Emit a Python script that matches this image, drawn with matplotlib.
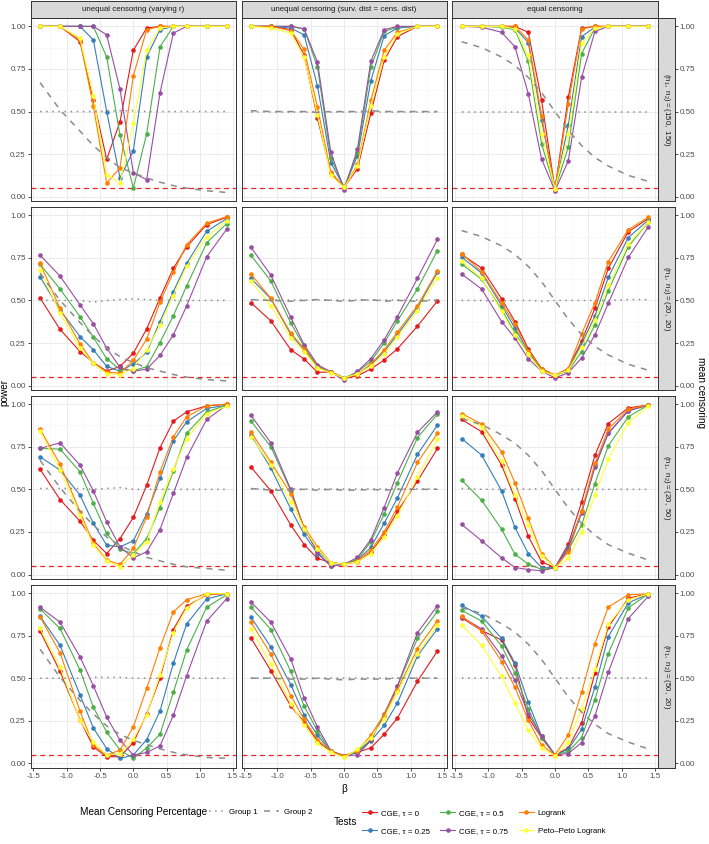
import matplotlib.pyplot as plt
from matplotlib.lines import Line2D
from matplotlib.ticker import MultipleLocator
from matplotlib.transforms import ScaledTranslation

plt.rcParams['font.family'] = ['Liberation Sans', 'DejaVu Sans']
plt.rcParams['axes.unicode_minus'] = False

# valores de beta (eje x)
beta = [-1.4, -1.1, -0.8, -0.6, -0.4, -0.2, 0.0, 0.2, 0.4, 0.6, 0.8, 1.1, 1.4]

escenarios = ['unequal censoring (varying r)',
              'unequal censoring (surv. dist = cens. dist)',
              'equal censoring']
tamanos = [r'$\mathregular{(n_1,\ n_2) = (150,\ 150)}$',
           r'$\mathregular{(n_1,\ n_2) = (20,\ 20)}$',
           r'$\mathregular{(n_1,\ n_2) = (20,\ 50)}$',
           r'$\mathregular{(n_1,\ n_2) = (50,\ 20)}$']
nivel_alfa = 0.05

# potencia por test: 12 paneles, fila por fila (150,150) (20,20) (20,50) (50,20)
# y en cada fila: varying r / surv = cens / equal censoring
cge_0 = [
    [1.0, 1.0, 0.91, 0.57, 0.22, 0.44, 0.86, 0.99, 1.0, 1.0, 1.0, 1.0, 1.0],
    [1.0, 1.0, 0.98, 0.83, 0.46, 0.14, 0.055, 0.165, 0.49, 0.80, 0.94, 1.0, 1.0],
    [1.0, 1.0, 1.0, 1.0, 0.965, 0.565, 0.045, 0.585, 0.99, 1.0, 1.0, 1.0, 1.0],
    [0.515, 0.33, 0.20, 0.135, 0.085, 0.113, 0.19, 0.333, 0.515, 0.688, 0.815, 0.945, 0.988],
    [0.487, 0.38, 0.21, 0.156, 0.078, 0.08, 0.045, 0.058, 0.097, 0.15, 0.216, 0.349, 0.497],
    [0.77, 0.69, 0.509, 0.376, 0.216, 0.10, 0.06, 0.10, 0.26, 0.454, 0.688, 0.903, 0.98],
    [0.618, 0.44, 0.313, 0.20, 0.123, 0.211, 0.335, 0.524, 0.744, 0.90, 0.955, 0.99, 1.0],
    [0.632, 0.491, 0.29, 0.176, 0.094, 0.07, 0.06, 0.075, 0.13, 0.235, 0.37, 0.548, 0.74],
    [0.91, 0.838, 0.642, 0.446, 0.225, 0.074, 0.04, 0.178, 0.427, 0.70, 0.886, 0.978, 0.995],
    [0.777, 0.54, 0.256, 0.097, 0.039, 0.039, 0.122, 0.291, 0.50, 0.786, 0.922, 0.99, 0.996],
    [0.738, 0.544, 0.336, 0.243, 0.13, 0.07, 0.045, 0.065, 0.091, 0.171, 0.266, 0.482, 0.66],
    [0.855, 0.78, 0.724, 0.578, 0.27, 0.15, 0.05, 0.091, 0.239, 0.53, 0.80, 0.97, 0.995],
]
cge_025 = [
    [1.0, 1.0, 1.0, 0.92, 0.50, 0.11, 0.27, 0.82, 0.98, 1.0, 1.0, 1.0, 1.0],
    [1.0, 1.0, 0.99, 0.95, 0.65, 0.20, 0.055, 0.24, 0.68, 0.945, 0.99, 1.0, 1.0],
    [1.0, 1.0, 1.0, 0.99, 0.905, 0.45, 0.045, 0.42, 0.94, 0.995, 1.0, 1.0, 1.0],
    [0.639, 0.444, 0.288, 0.21, 0.113, 0.084, 0.127, 0.195, 0.376, 0.552, 0.717, 0.906, 0.98],
    [0.63, 0.51, 0.30, 0.21, 0.11, 0.08, 0.045, 0.07, 0.12, 0.20, 0.30, 0.458, 0.665],
    [0.754, 0.66, 0.47, 0.337, 0.20, 0.09, 0.06, 0.09, 0.244, 0.409, 0.635, 0.869, 0.971],
    [0.691, 0.613, 0.466, 0.30, 0.172, 0.162, 0.198, 0.356, 0.564, 0.785, 0.896, 0.975, 0.994],
    [0.82, 0.625, 0.384, 0.235, 0.123, 0.05, 0.06, 0.085, 0.159, 0.30, 0.45, 0.705, 0.877],
    [0.798, 0.701, 0.491, 0.276, 0.123, 0.04, 0.04, 0.162, 0.37, 0.642, 0.828, 0.961, 0.995],
    [0.864, 0.693, 0.402, 0.208, 0.087, 0.029, 0.049, 0.14, 0.307, 0.588, 0.819, 0.965, 0.996],
    [0.86, 0.683, 0.462, 0.285, 0.165, 0.07, 0.045, 0.065, 0.132, 0.223, 0.355, 0.631, 0.79],
    [0.928, 0.864, 0.734, 0.588, 0.359, 0.16, 0.05, 0.083, 0.20, 0.447, 0.744, 0.942, 0.995],
]
cge_05 = [
    [1.0, 1.0, 1.0, 1.0, 0.82, 0.36, 0.05, 0.37, 0.88, 1.0, 1.0, 1.0, 1.0],
    [1.0, 1.0, 1.0, 0.985, 0.76, 0.23, 0.055, 0.26, 0.76, 0.97, 0.995, 1.0, 1.0],
    [1.0, 1.0, 0.995, 0.98, 0.795, 0.31, 0.045, 0.29, 0.84, 0.99, 1.0, 1.0, 1.0],
    [0.713, 0.567, 0.405, 0.283, 0.158, 0.094, 0.088, 0.111, 0.253, 0.411, 0.585, 0.838, 0.951],
    [0.766, 0.614, 0.366, 0.23, 0.115, 0.08, 0.045, 0.08, 0.142, 0.25, 0.38, 0.567, 0.793],
    [0.713, 0.624, 0.448, 0.308, 0.19, 0.09, 0.06, 0.085, 0.20, 0.357, 0.557, 0.815, 0.96],
    [0.74, 0.736, 0.603, 0.417, 0.241, 0.147, 0.123, 0.211, 0.393, 0.607, 0.828, 0.955, 0.994],
    [0.902, 0.75, 0.491, 0.27, 0.14, 0.07, 0.06, 0.09, 0.192, 0.354, 0.54, 0.804, 0.941],
    [0.554, 0.436, 0.266, 0.119, 0.061, 0.03, 0.04, 0.143, 0.29, 0.534, 0.755, 0.926, 0.995],
    [0.907, 0.792, 0.548, 0.33, 0.184, 0.078, 0.029, 0.091, 0.171, 0.417, 0.666, 0.917, 0.99],
    [0.918, 0.786, 0.54, 0.336, 0.19, 0.07, 0.045, 0.07, 0.14, 0.278, 0.452, 0.734, 0.893],
    [0.899, 0.835, 0.689, 0.53, 0.32, 0.15, 0.05, 0.07, 0.151, 0.375, 0.645, 0.913, 0.995],
]
cge_075 = [
    [1.0, 1.0, 1.0, 1.0, 0.95, 0.63, 0.14, 0.10, 0.61, 0.96, 1.0, 1.0, 1.0],
    [1.0, 1.0, 1.0, 0.985, 0.79, 0.26, 0.04, 0.28, 0.795, 0.98, 1.0, 1.0, 1.0],
    [1.0, 0.995, 0.965, 0.88, 0.605, 0.22, 0.035, 0.21, 0.70, 0.97, 1.0, 1.0, 1.0],
    [0.766, 0.643, 0.474, 0.363, 0.22, 0.107, 0.084, 0.097, 0.177, 0.298, 0.468, 0.756, 0.918],
    [0.813, 0.649, 0.40, 0.24, 0.123, 0.08, 0.031, 0.084, 0.158, 0.269, 0.405, 0.63, 0.858],
    [0.655, 0.567, 0.376, 0.279, 0.158, 0.085, 0.045, 0.075, 0.162, 0.298, 0.483, 0.752, 0.932],
    [0.74, 0.773, 0.642, 0.491, 0.309, 0.162, 0.098, 0.133, 0.264, 0.476, 0.687, 0.91, 0.994],
    [0.935, 0.773, 0.499, 0.27, 0.13, 0.05, 0.06, 0.10, 0.205, 0.393, 0.597, 0.834, 0.955],
    [0.294, 0.198, 0.098, 0.041, 0.029, 0.022, 0.04, 0.15, 0.36, 0.63, 0.83, 0.96, 0.995],
    [0.917, 0.829, 0.625, 0.456, 0.272, 0.136, 0.049, 0.064, 0.103, 0.282, 0.515, 0.835, 0.967],
    [0.948, 0.829, 0.612, 0.384, 0.213, 0.075, 0.045, 0.049, 0.135, 0.291, 0.456, 0.767, 0.926],
    [0.86, 0.79, 0.631, 0.489, 0.291, 0.161, 0.05, 0.058, 0.122, 0.278, 0.534, 0.85, 0.981],
]
logrank = [
    [1.0, 1.0, 0.92, 0.53, 0.08, 0.17, 0.71, 0.98, 1.0, 1.0, 1.0, 1.0, 1.0],
    [1.0, 1.0, 0.975, 0.865, 0.525, 0.145, 0.055, 0.19, 0.565, 0.86, 0.965, 1.0, 1.0],
    [1.0, 1.0, 1.0, 1.0, 0.92, 0.475, 0.045, 0.545, 0.985, 1.0, 1.0, 1.0, 1.0],
    [0.717, 0.454, 0.245, 0.133, 0.078, 0.074, 0.148, 0.273, 0.49, 0.665, 0.828, 0.953, 0.992],
    [0.655, 0.513, 0.308, 0.216, 0.105, 0.08, 0.045, 0.065, 0.127, 0.21, 0.314, 0.47, 0.673],
    [0.774, 0.668, 0.483, 0.36, 0.205, 0.10, 0.06, 0.10, 0.304, 0.487, 0.727, 0.916, 0.988],
    [0.853, 0.648, 0.368, 0.182, 0.084, 0.059, 0.153, 0.339, 0.603, 0.808, 0.926, 0.99, 1.0],
    [0.838, 0.66, 0.472, 0.28, 0.162, 0.07, 0.06, 0.08, 0.143, 0.25, 0.397, 0.658, 0.828],
    [0.945, 0.883, 0.72, 0.538, 0.329, 0.123, 0.04, 0.133, 0.374, 0.652, 0.853, 0.97, 0.995],
    [0.86, 0.65, 0.307, 0.107, 0.049, 0.078, 0.214, 0.441, 0.68, 0.889, 0.961, 0.996, 0.996],
    [0.831, 0.641, 0.398, 0.258, 0.14, 0.07, 0.045, 0.075, 0.165, 0.287, 0.433, 0.674, 0.837],
    [0.864, 0.777, 0.598, 0.447, 0.252, 0.107, 0.05, 0.165, 0.417, 0.703, 0.918, 0.99, 0.995],
]
peto_peto = [
    [1.0, 1.0, 0.93, 0.59, 0.13, 0.08, 0.43, 0.86, 0.99, 1.0, 1.0, 1.0, 1.0],
    [1.0, 0.99, 0.96, 0.82, 0.48, 0.125, 0.055, 0.18, 0.535, 0.82, 0.955, 1.0, 1.0],
    [1.0, 1.0, 1.0, 0.985, 0.83, 0.37, 0.045, 0.37, 0.90, 0.99, 1.0, 1.0, 1.0],
    [0.678, 0.425, 0.22, 0.13, 0.07, 0.064, 0.10, 0.21, 0.353, 0.528, 0.70, 0.873, 0.969],
    [0.614, 0.468, 0.279, 0.20, 0.103, 0.075, 0.045, 0.07, 0.113, 0.185, 0.283, 0.44, 0.634],
    [0.731, 0.63, 0.435, 0.298, 0.185, 0.084, 0.06, 0.09, 0.228, 0.386, 0.59, 0.83, 0.961],
    [0.841, 0.613, 0.348, 0.172, 0.08, 0.045, 0.117, 0.192, 0.427, 0.618, 0.798, 0.945, 0.988],
    [0.808, 0.645, 0.423, 0.27, 0.15, 0.07, 0.06, 0.075, 0.123, 0.221, 0.344, 0.573, 0.793],
    [0.932, 0.867, 0.665, 0.466, 0.29, 0.11, 0.04, 0.094, 0.25, 0.466, 0.677, 0.892, 0.988],
    [0.792, 0.563, 0.252, 0.126, 0.049, 0.058, 0.142, 0.285, 0.52, 0.767, 0.913, 0.996, 0.996],
    [0.79, 0.583, 0.35, 0.227, 0.117, 0.065, 0.035, 0.083, 0.15, 0.262, 0.42, 0.645, 0.812],
    [0.812, 0.693, 0.511, 0.353, 0.194, 0.091, 0.043, 0.126, 0.32, 0.553, 0.816, 0.961, 0.995],
]

# censura media por grupo (mismo orden de paneles)
cens_g1 = [
    [0.50, 0.50, 0.50, 0.50, 0.50, 0.505, 0.505, 0.50, 0.50, 0.50, 0.50, 0.50, 0.50],
    [0.50, 0.50, 0.50, 0.50, 0.50, 0.50, 0.50, 0.50, 0.50, 0.50, 0.50, 0.50, 0.50],
    [0.50, 0.50, 0.50, 0.50, 0.50, 0.50, 0.50, 0.50, 0.50, 0.50, 0.50, 0.50, 0.50],
    [0.50, 0.50, 0.50, 0.49, 0.50, 0.505, 0.51, 0.505, 0.50, 0.50, 0.50, 0.50, 0.50],
    [0.50, 0.50, 0.50, 0.50, 0.50, 0.50, 0.50, 0.50, 0.50, 0.50, 0.50, 0.50, 0.50],
    [0.50, 0.50, 0.495, 0.50, 0.50, 0.495, 0.50, 0.50, 0.50, 0.50, 0.50, 0.505, 0.505],
    [0.505, 0.505, 0.505, 0.50, 0.505, 0.51, 0.50, 0.50, 0.50, 0.50, 0.50, 0.50, 0.50],
    [0.50, 0.50, 0.50, 0.50, 0.50, 0.50, 0.50, 0.50, 0.50, 0.50, 0.50, 0.50, 0.50],
    [0.505, 0.50, 0.50, 0.505, 0.50, 0.505, 0.50, 0.50, 0.50, 0.50, 0.50, 0.50, 0.50],
    [0.50, 0.50, 0.50, 0.505, 0.505, 0.505, 0.50, 0.50, 0.50, 0.50, 0.50, 0.50, 0.50],
    [0.50, 0.50, 0.50, 0.50, 0.50, 0.50, 0.50, 0.50, 0.50, 0.50, 0.50, 0.50, 0.50],
    [0.50, 0.50, 0.50, 0.50, 0.50, 0.50, 0.50, 0.50, 0.50, 0.50, 0.50, 0.50, 0.50],
]
cens_g2 = [
    [0.67, 0.51, 0.385, 0.30, 0.23, 0.17, 0.14, 0.11, 0.085, 0.065, 0.05, 0.035, 0.025],
    [0.505, 0.50, 0.50, 0.50, 0.495, 0.50, 0.50, 0.50, 0.505, 0.50, 0.50, 0.50, 0.50],
    [0.91, 0.875, 0.82, 0.77, 0.70, 0.61, 0.50, 0.39, 0.30, 0.23, 0.18, 0.125, 0.09],
    [0.66, 0.50, 0.37, 0.29, 0.22, 0.17, 0.135, 0.105, 0.085, 0.065, 0.05, 0.035, 0.028],
    [0.505, 0.50, 0.495, 0.50, 0.505, 0.50, 0.495, 0.50, 0.505, 0.495, 0.50, 0.495, 0.50],
    [0.91, 0.875, 0.82, 0.77, 0.70, 0.61, 0.50, 0.39, 0.30, 0.23, 0.18, 0.125, 0.09],
    [0.67, 0.51, 0.37, 0.29, 0.22, 0.17, 0.135, 0.10, 0.08, 0.06, 0.045, 0.035, 0.025],
    [0.505, 0.495, 0.495, 0.50, 0.495, 0.50, 0.495, 0.495, 0.50, 0.495, 0.50, 0.50, 0.50],
    [0.915, 0.88, 0.82, 0.77, 0.70, 0.61, 0.50, 0.39, 0.30, 0.23, 0.175, 0.125, 0.085],
    [0.67, 0.505, 0.37, 0.29, 0.22, 0.17, 0.135, 0.11, 0.085, 0.065, 0.05, 0.035, 0.03],
    [0.50, 0.50, 0.495, 0.495, 0.50, 0.495, 0.49, 0.495, 0.495, 0.495, 0.50, 0.50, 0.50],
    [0.915, 0.88, 0.82, 0.77, 0.70, 0.61, 0.50, 0.39, 0.30, 0.23, 0.175, 0.125, 0.085],
]

tests = [cge_0, cge_025, cge_05, cge_075, logrank, peto_peto]
nombres_tests = ['CGE, τ = 0', 'CGE, τ = 0.25', 'CGE, τ = 0.5', 'CGE, τ = 0.75',
                 'Logrank', 'Peto–Peto Logrank']
colores = ['#E41A1C', '#377EB8', '#4DAF4A', '#984EA3', '#FF7F00', '#FFFF33']
gris = '#8C8C8C'
borde = '#333333'

W, H = 709, 844
fig = plt.figure(figsize=(W / 100, H / 100), dpi=100)


def caja(x, y, w, h):
    # convierte pixeles (desde arriba a la izquierda) a fracciones de la figura
    return [x / W, 1 - (y + h) / H, w / W, h / H]


col_x = [30.7, 241.5, 452.3]
fila_y = [18.0, 206.9, 395.8, 584.7]
pw, ph = 205.3, 183.3
ylim = (-0.027, 1.049)
tam_tick = 5.8
tam_tira = 5.7
paneles_x = []

for r in range(4):
    for c in range(3):
        i = r * 3 + c
        ax = fig.add_axes(caja(col_x[c], fila_y[r], pw, ph))
        ax.set_xlim(-1.54, 1.54)
        ax.set_ylim(*ylim)
        ax.xaxis.set_major_locator(MultipleLocator(0.5))
        ax.xaxis.set_minor_locator(MultipleLocator(0.25))
        ax.yaxis.set_major_locator(MultipleLocator(0.25))
        ax.yaxis.set_minor_locator(MultipleLocator(0.125))
        ax.grid(which='major', color='#EBEBEB', lw=0.7)
        ax.grid(which='minor', color='#F4F4F4', lw=0.4)
        ax.set_axisbelow(True)
        for s in ax.spines.values():
            s.set_color(borde)
            s.set_linewidth(0.7)
        ax.tick_params(which='minor', length=0)
        ax.tick_params(which='major', length=2, width=0.6, color=borde,
                       labelsize=tam_tick, labelcolor='#4D4D4D', pad=1.5)
        if c == 0:
            ax.yaxis.set_major_formatter(lambda v, p: f'{v:.2f}')
        else:
            ax.tick_params(axis='y', length=0, labelleft=False)
        if r == 3:
            ax.xaxis.set_major_formatter(lambda v, p: f'{v:.1f}')
            paneles_x.append((c, ax))
        else:
            ax.tick_params(axis='x', length=0, labelbottom=False)

        ax.axhline(nivel_alfa, color='#E8262A', ls=(0, (4, 3)), lw=0.9, zorder=1.5)
        ax.plot(beta, cens_g1[i], color=gris, ls=(0, (1, 3)), lw=1.1, zorder=4)
        ax.plot(beta, cens_g2[i], color=gris, ls=(0, (4, 4)), lw=1.1, zorder=4)
        for datos, col in zip(tests, colores):
            ax.plot(beta, datos[i], color=col, lw=0.8, marker='o', ms=3.3,
                    mec=col, mew=0, zorder=3)

        # tiras superiores
        if r == 0:
            tx = fig.add_axes(caja(col_x[c], 0.8, pw, 17.2))
            tx.set_facecolor('#D9D9D9')
            tx.set_xticks([])
            tx.set_yticks([])
            for s in tx.spines.values():
                s.set_color(borde)
                s.set_linewidth(0.7)
            tx.text(0.5, 0.5, escenarios[c], ha='center', va='center',
                    fontsize=tam_tira, color='#1A1A1A', transform=tx.transAxes)

    # tira derecha con el eje secundario
    sx = fig.add_axes(caja(657.6, fila_y[r], 17.4, ph))
    sx.set_facecolor('#D9D9D9')
    sx.set_ylim(*ylim)
    sx.set_xticks([])
    sx.yaxis.set_major_locator(MultipleLocator(0.25))
    sx.yaxis.set_major_formatter(lambda v, p: f'{v:.2f}')
    sx.yaxis.tick_right()
    sx.tick_params(axis='y', length=2, width=0.6, color=borde,
                   labelsize=tam_tick, labelcolor='#4D4D4D', pad=1.5)
    for s in sx.spines.values():
        s.set_color(borde)
        s.set_linewidth(0.7)
    sx.text(0.5, 0.5, tamanos[r], ha='center', va='center', rotation=-90,
            fontsize=tam_tira, color='#1A1A1A', transform=sx.transAxes)

# separar un poco las etiquetas 1.5 / -1.5 que se tocan entre paneles
fig.canvas.draw()
for c, ax in paneles_x:
    for lab in ax.get_xticklabels():
        txt = lab.get_text()
        if txt == '1.5' and c < 2:
            lab.set_transform(lab.get_transform() + ScaledTranslation(-1.2 / 72, 0, fig.dpi_scale_trans))
        if txt == '-1.5' and c > 0:
            lab.set_transform(lab.get_transform() + ScaledTranslation(1.2 / 72, 0, fig.dpi_scale_trans))

# titulos de los ejes
fig.text(4.5 / W, 1 - 393 / H, 'power', rotation=90, ha='center', va='center', fontsize=7.2)
fig.text(701 / W, 1 - 393 / H, 'mean censoring', rotation=-90, ha='center', va='center',
         fontsize=7.2)
fig.text(344 / W, 1 - 789 / H, 'β', ha='center', va='center', fontsize=7.2)

# leyendas
fila1, fila_tests = 812, 822
fig.text(80 / W, 1 - fila1 / H, 'Mean Censoring Percentage', ha='left', va='center',
         fontsize=7.2)
h_cens = [Line2D([], [], color=gris, ls=(0, (1, 3)), lw=1.1),
          Line2D([], [], color=gris, ls=(0, (4, 4)), lw=1.1)]
fig.legend(handles=h_cens, labels=['Group 1', 'Group 2'], ncol=2, loc='center left',
           bbox_to_anchor=(209 / W, 1 - fila1 / H), frameon=False, fontsize=tam_tira,
           handlelength=1.9, handletextpad=0.6, columnspacing=0.9,
           borderpad=0, borderaxespad=0)

fig.text(334 / W, 1 - fila_tests / H, 'Tests', ha='left', va='center', fontsize=7.2)
h_tests = [Line2D([], [], color=col, lw=0.8, marker='o', ms=3.3, mew=0)
           for col in colores]
fig.legend(handles=h_tests, labels=nombres_tests, ncol=3, loc='center left',
           bbox_to_anchor=(362 / W, 1 - fila_tests / H), frameon=False, fontsize=tam_tira,
           handlelength=1.9, handletextpad=0.5, columnspacing=1.3, labelspacing=1.3,
           numpoints=1, borderpad=0, borderaxespad=0)

fig.savefig('out.png', dpi=100)
